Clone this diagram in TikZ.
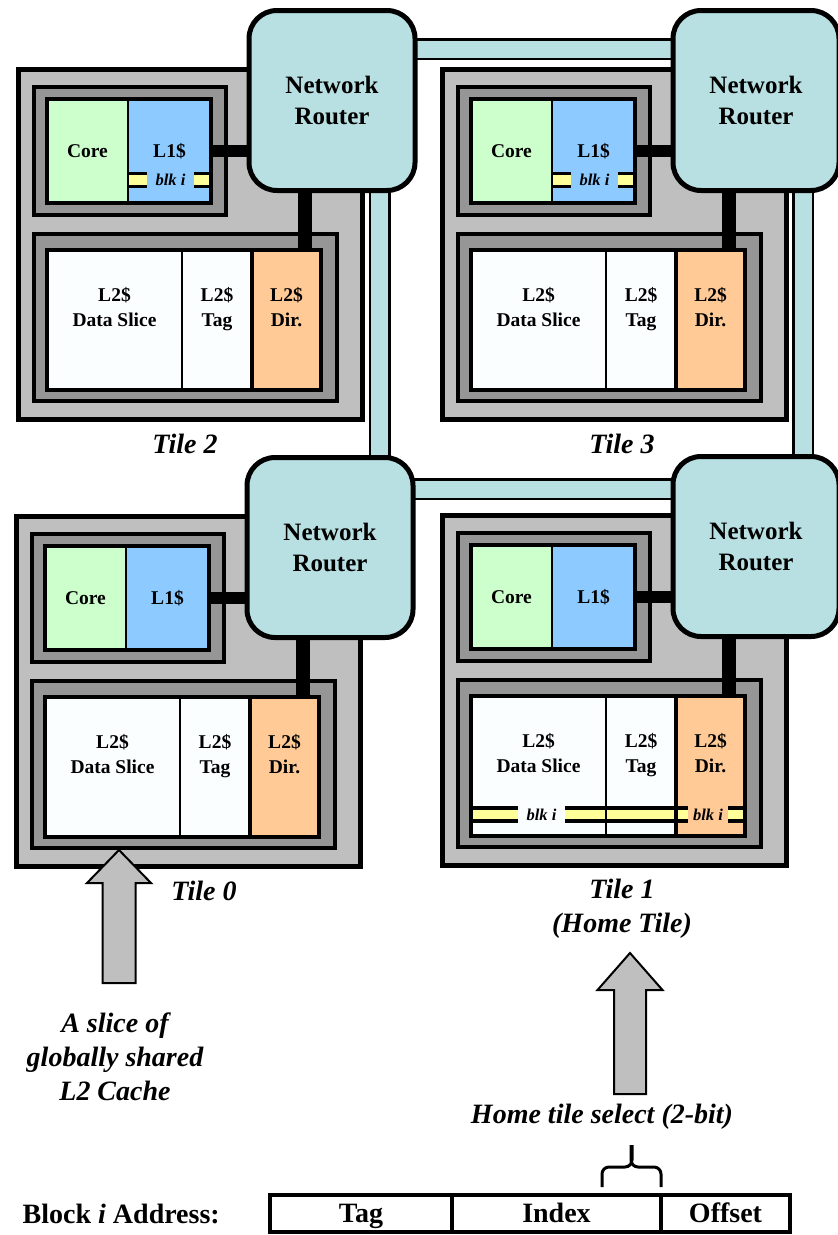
\documentclass[tikz,border=0pt]{standalone}
\usepackage{fontspec}
\setmainfont{Liberation Serif}
\usetikzlibrary{positioning, fit, backgrounds}

\definecolor{tilegray}{RGB}{192,191,192}
\definecolor{groupgray}{RGB}{150,150,150}
\definecolor{corefill}{RGB}{204,255,204}
\definecolor{lonefill}{RGB}{140,202,255}
\definecolor{ltwofill}{RGB}{250,254,255}
\definecolor{dirfill}{RGB}{255,202,150}
\definecolor{routerfill}{RGB}{184,224,226}
\definecolor{blkyellow}{RGB}{255,255,153}

\begin{document}
\begin{tikzpicture}[x=1pt, y=-1pt, node distance=0pt,
	box/.style={rectangle, draw=black, anchor=north west, outer sep=0pt, inner sep=0pt},
	tilebox/.style={box, fill=tilegray, line width=5pt, minimum width=344pt, minimum height=350pt},
	groupbox/.style={box, fill=groupgray, line width=4pt},
	cell/.style={box, line width=2pt, minimum height=104pt, font=\fontsize{19.5}{25}\selectfont\bfseries, align=center},
	frame/.style={rectangle, draw=black, line width=4pt, inner sep=0pt},
	celltext/.style={font=\fontsize{19.5}{25}\selectfont\bfseries, align=center, inner sep=0pt, text depth=5pt},
	router/.style={rectangle, draw=black, line width=5pt, fill=routerfill, rounded corners=28pt, minimum width=166pt, minimum height=180pt, font=\fontsize{25}{31}\selectfont\bfseries, align=center, outer sep=0pt},
	bus/.style={line width=12pt},
	link/.style={line width=2.5pt, double=routerfill, double distance=17pt},
	blkline/.style={line width=3.5pt, double=blkyellow, double distance=9.5pt},
	blktext/.style={font=\fontsize{16.5}{18}\selectfont\bfseries\itshape, inner sep=0pt, minimum height=18pt},
	tilelabel/.style={font=\fontsize{28}{34}\selectfont\bfseries\itshape, align=center, inner sep=0pt},
	bigtext/.style={font=\fontsize{28}{34}\selectfont\bfseries, inner sep=0pt},
	field/.style={box, line width=4pt, minimum height=37pt, text height=19pt, text depth=2pt, font=\fontsize{28}{34}\selectfont\bfseries},
	bigarrow/.style={draw=black, line width=2pt, fill=tilegray, line join=miter},
	bracepen/.style={line width=3pt, rounded corners=7pt}]
	\useasboundingbox (0,0) rectangle (838,1235);

	\foreach \n/\x/\y in {2/16/67, 3/440/67, 0/14/514, 1/440/513} {
	\begin{scope}[shift={(\x,\y)}]
		\node[tilebox] (tile\n) at (2.5,2.5) {};
		\node[groupbox, minimum width=192pt, minimum height=128pt] (grp\n) at (18,20) {};
		\node[groupbox, minimum width=303pt, minimum height=167pt] (low\n) at (18,167) {};
		\node[cell, fill=corefill, minimum width=81pt] (core\n) at (31,32) {Core};
		\node[cell, fill=lonefill, minimum width=83pt, right=of core\n] (lone\n) {L1\$};
		\node[frame, fit=(core\n)(lone\n)] (upper\n) {};
		\node[cell, fill=ltwofill, minimum width=135pt, minimum height=140pt] (dslice\n) at (31,183) {};
		\node[cell, fill=ltwofill, minimum width=70pt, minimum height=140pt, right=of dslice\n] (tagc\n) {};
		\node[cell, fill=dirfill, minimum width=69pt, minimum height=140pt, right=of tagc\n] (dir\n) {};
		\node[frame, fit=(dslice\n)(dir\n)] (lower\n) {};
		\draw[line width=4pt] (dir\n.north west) -- (dir\n.south west);
		\node[celltext] (dtext\n) at ([yshift=11pt]dslice\n.center) {L2\$\\Data Slice};
		\node[celltext] (ttext\n) at ([yshift=11pt]tagc\n.center) {L2\$\\Tag};
		\node[celltext] (rtext\n) at ([yshift=11pt]dir\n.center) {L2\$\\Dir.};
		\node[router] (router\n) at (316,33.5) {Network\\Router};
		\draw[bus] (lone\n.east) -- (lone\n.east -| router\n.west);
		\draw[bus, line width=14pt] ([xshift=18.5pt]dir\n.north) -- ([xshift=18.5pt]dir\n.north |- router\n.south);
	\end{scope}
	}

	\begin{scope}[on background layer]
		\draw[link] ([yshift=51.5pt]router2.center) -- ([yshift=51.5pt]router2.center -| router3.center);
		\draw[link] ([yshift=58.5pt]router0.center) -- ([yshift=58.5pt]router0.center -| router1.center);
		\draw[link] ([xshift=47.5pt]router2.center) -- ([xshift=47.5pt]router2.center |- router0.center);
		\draw[link] ([xshift=47pt]router3.center) -- ([xshift=47pt]router3.center |- router1.center);
	\end{scope}

	\foreach \n in {2,3} {
		\draw[blkline] ([xshift=1pt, yshift=-29pt]lone\n.west) -- ([xshift=-2pt, yshift=-29pt]lone\n.east);
		\node[blktext, fill=lonefill, minimum width=47pt] (blkone\n) at ([xshift=1pt, yshift=-29pt]lone\n.center) {blk i};
	}
	\draw[blkline] ([xshift=2pt, yshift=-48.5pt]dslice1.west) -- ([xshift=-2pt, yshift=-48.5pt]dir1.east);
	\draw[line width=2pt] (tagc1.north west) -- (tagc1.south west);
	\draw[line width=4pt] (dir1.north west) -- (dir1.south west);
	\node[blktext, fill=ltwofill, minimum width=47pt] (blkdata) at ([xshift=3pt, yshift=-48.5pt]dslice1.center) {blk i};
	\node[blktext, fill=dirfill, minimum width=40pt] (blkdir) at ([xshift=-2.5pt, yshift=-48.5pt]dir1.center) {blk i};

	\node[tilelabel] (lbltwo) at (185,444) {Tile 2};
	\node[tilelabel] (lblthree) at (622,444) {Tile 3};
	\node[tilelabel] (lblzero) at (204,891) {Tile 0};
	\node[tilelabel] (lblone) at (622,909) {Tile 1\\(Home Tile)};
	\node[tilelabel] (slicetxt) at (115,1057) {A slice of\\globally shared\\L2 Cache};
	\node[tilelabel] (selecttxt) at (602,1117) {Home tile select (2-bit)};

	\coordinate (slicetip) at (119,850);
	\draw[bigarrow] (slicetip) -- ++(32,33) -- ++(-15.5,0) -- ++(0,100) -- ++(-33,0) -- ++(0,-100) -- ++(-15.5,0) -- cycle;
	\coordinate (hometip) at (630,953);
	\draw[bigarrow] (hometip) -- ++(32.5,37) -- ++(-16.5,0) -- ++(0,104) -- ++(-32,0) -- ++(0,-104) -- ++(-16.5,0) -- cycle;

	\node[field, minimum width=182pt] (tagf) at (270,1195) {Tag};
	\node[field, minimum width=209pt, right=of tagf] (idxf) {Index};
	\node[field, minimum width=129pt, right=of idxf] (offf) {Offset};
	\node[bigtext, left=50pt of tagf] (addrtxt) {Block \textit{i} Address:};

	\coordinate (braceL) at ([xshift=-59pt, yshift=8pt]idxf.north east);
	\coordinate (braceR) at ([yshift=8pt]idxf.north east);
	\draw[bracepen] (braceL) |- ++(30,-20) -- ++(0,-22);
	\draw[bracepen] (braceR) |- ++(-30,-20) -- ++(0,-22);
\end{tikzpicture}
\end{document}
